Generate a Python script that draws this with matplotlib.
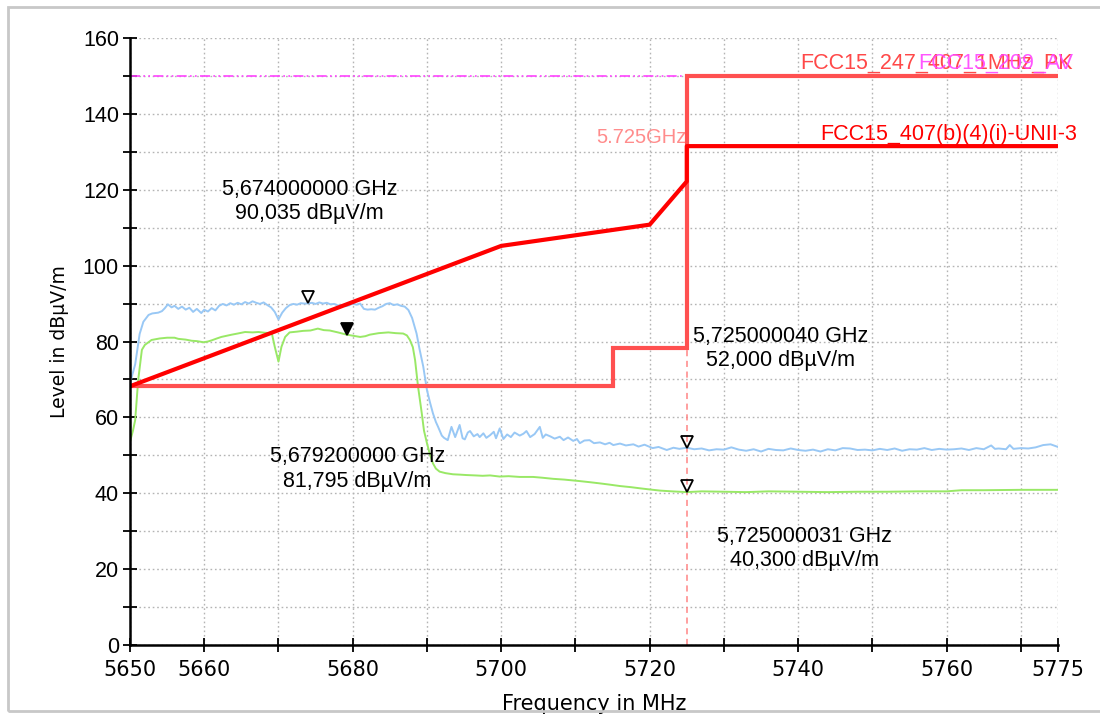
import matplotlib
matplotlib.use("Agg")
import matplotlib.pyplot as plt
from matplotlib.transforms import offset_copy
from matplotlib.patches import Rectangle

# ---------------- data ----------------
blue_f = [5650.0, 5650.7, 5651.3, 5651.8, 5652.5, 5653.0, 5653.8, 5654.3, 5654.7, 5655.1,
          5655.6, 5656.0, 5656.5, 5657.0, 5657.5, 5658.0, 5658.5, 5659.0, 5659.6, 5660.0,
          5660.5, 5661.0, 5661.5, 5662.0, 5662.5, 5663.0, 5663.5, 5664.0, 5664.5, 5665.0,
          5665.5, 5666.0, 5666.5, 5667.0, 5667.5, 5668.0, 5668.5, 5669.0, 5669.5, 5670.0,
          5670.5, 5671.0, 5671.5, 5672.0, 5672.5, 5673.0, 5673.5, 5674.0, 5674.5, 5675.0,
          5675.5, 5676.0, 5676.5, 5677.0, 5677.5, 5678.0, 5678.5, 5679.0, 5679.5, 5680.0,
          5680.5, 5681.0, 5681.5, 5682.0, 5682.5, 5683.0, 5683.5, 5684.0, 5684.5, 5685.0,
          5685.5, 5686.0, 5686.5, 5687.0, 5687.5, 5688.0, 5688.6, 5689.0, 5689.5, 5690.0,
          5690.4, 5690.8, 5691.2, 5691.5, 5692.0, 5692.3, 5692.8, 5693.3, 5693.8, 5694.4,
          5694.8, 5695.1, 5695.5, 5695.8, 5696.3, 5696.8, 5697.1, 5697.6, 5698.0, 5698.5,
          5699.0, 5699.3, 5699.8, 5700.3, 5700.8, 5701.3, 5701.8, 5702.5, 5703.0, 5703.4,
          5703.9, 5704.5, 5705.2, 5705.6, 5706.0, 5706.6, 5707.2, 5707.9, 5708.4, 5709.0,
          5709.7, 5710.2, 5710.6, 5711.2, 5711.9, 5712.5, 5713.3, 5714.0, 5714.6, 5715.1,
          5716.0, 5716.8, 5717.8, 5718.5, 5719.3, 5720.4, 5721.2, 5722.3, 5723.2, 5724.0,
          5725.0, 5726.0, 5727.0, 5728.0, 5729.0, 5730.0, 5731.0, 5732.0, 5733.0, 5734.0,
          5735.0, 5736.0, 5737.0, 5738.0, 5739.0, 5740.0, 5741.0, 5742.0, 5743.0, 5744.0,
          5745.0, 5746.0, 5747.0, 5748.0, 5749.0, 5750.0, 5751.0, 5752.0, 5753.0, 5754.0,
          5755.0, 5756.0, 5757.0, 5758.0, 5759.0, 5760.0, 5761.0, 5762.0, 5763.0, 5764.0,
          5765.0, 5766.0, 5766.5, 5767.0, 5768.0, 5768.5, 5769.0, 5770.0, 5771.0, 5772.0,
          5773.0, 5774.0, 5775.0]
blue_v = [69.0, 74.0, 82.0, 85.2, 87.0, 87.4, 87.6, 88.0, 88.8, 89.8,
          89.0, 89.4, 88.6, 89.2, 88.4, 88.9, 87.8, 88.6, 87.5, 88.4,
          87.9, 88.8, 88.2, 89.4, 89.9, 89.5, 90.1, 89.7, 90.2, 89.8,
          90.4, 90.0, 90.6, 90.2, 89.9, 90.3, 89.6, 89.0, 87.8, 85.8,
          87.6, 88.8, 89.6, 89.9, 89.7, 90.1, 90.0, 90.035, 90.2, 89.9,
          90.3, 90.0, 90.2, 89.8, 89.9, 89.5, 89.6, 89.3, 89.5, 90.0,
          89.7, 90.0, 88.6, 88.4, 88.5, 88.4, 88.9, 89.3, 89.9, 90.1,
          89.6, 89.8, 89.4, 89.2, 88.3, 86.2, 82.1, 78.0, 73.4, 67.2,
          64.0, 61.1, 58.8, 57.5, 55.2, 54.6, 54.0, 57.5, 54.8, 58.0,
          54.5, 54.2, 56.0, 56.4, 55.0, 55.6, 54.8, 55.8, 54.6, 55.3,
          56.2, 54.5, 57.1, 54.3, 55.5, 54.8, 56.0, 55.2, 55.7, 56.4,
          54.8, 55.6, 57.5, 54.6, 55.5, 55.0, 54.4, 54.9, 54.0, 54.7,
          53.8, 54.3, 53.2, 53.9, 54.0, 53.2, 53.4, 52.9, 53.3, 52.7,
          53.1, 52.6, 52.9, 52.3, 52.8, 51.9, 52.2, 51.4, 52.0, 51.7,
          52.0, 51.6, 51.8, 51.3, 51.6, 51.5, 52.1, 51.5, 51.2, 51.6,
          51.0, 51.7, 51.4, 51.3, 51.8, 51.4, 51.2, 51.5, 51.0, 51.6,
          51.3, 51.9, 51.8, 51.4, 51.5, 51.3, 51.7, 51.4, 51.8, 51.2,
          51.6, 51.5, 51.9, 51.4, 51.7, 51.5, 51.6, 51.8, 51.4, 51.9,
          51.6, 52.6, 51.7, 51.8, 51.6, 52.7, 51.7, 51.9, 51.8, 52.1,
          52.7, 52.9, 52.2]

green_f = [5650.0, 5650.4, 5650.7, 5651.1, 5651.6, 5652.0, 5652.9, 5654.0, 5655.0, 5656.0,
           5656.5, 5657.5, 5658.3, 5659.0, 5659.9, 5660.5, 5661.0, 5661.7, 5662.3, 5663.0,
           5663.7, 5664.5, 5665.5, 5666.5, 5667.3, 5668.2, 5669.1, 5669.5, 5670.0, 5670.4,
           5670.9, 5671.5, 5672.5, 5673.3, 5674.3, 5675.3, 5676.1, 5676.9, 5678.0, 5679.2,
           5680.1, 5681.0, 5681.7, 5682.3, 5683.5, 5684.8, 5685.8, 5686.8, 5687.3, 5687.7,
           5688.1, 5688.4, 5688.8, 5689.3, 5689.6, 5690.0, 5690.4, 5690.8, 5691.2, 5691.7,
           5692.5, 5693.5, 5694.5, 5695.3, 5696.5, 5697.5, 5698.5, 5699.8, 5701.0, 5702.5,
           5704.3, 5705.5, 5707.0, 5708.5, 5710.6, 5712.0, 5713.3, 5714.5, 5716.0, 5717.5,
           5718.7, 5720.0, 5721.4, 5723.0, 5725.0, 5727.0, 5730.0, 5733.0, 5736.0, 5740.0,
           5744.0, 5748.0, 5752.0, 5756.0, 5760.0, 5762.0, 5765.0, 5770.0, 5775.0]
green_v = [53.6, 56.5, 59.3, 69.8, 77.8, 79.1, 80.4, 80.8, 81.0, 81.0,
           80.7, 80.5, 80.2, 80.1, 79.8, 80.0, 80.3, 80.8, 81.2, 81.5,
           81.8, 82.1, 82.5, 82.4, 82.5, 82.3, 82.2, 78.6, 74.7, 78.6,
           81.2, 82.4, 82.6, 82.8, 82.9, 83.4, 83.0, 82.9, 82.4, 81.8,
           81.5, 81.2, 81.4, 81.8, 82.2, 82.4, 82.2, 82.1, 81.6, 80.4,
           78.5, 75.1, 68.1, 61.1, 56.5, 53.2, 50.2, 47.9, 46.5, 45.7,
           45.3, 45.0, 44.9, 44.8, 44.7, 44.6, 44.7, 44.4, 44.5, 44.3,
           44.3, 44.1, 43.8, 43.6, 43.2, 42.9, 42.6, 42.3, 41.9, 41.6,
           41.3, 41.0, 40.7, 40.5, 40.3, 40.5, 40.4, 40.3, 40.5, 40.4,
           40.3, 40.4, 40.4, 40.5, 40.5, 40.8, 40.8, 40.9, 40.9]

# limit lines
lim247_f = [5650, 5715, 5715, 5725, 5725, 5775]
lim247_v = [68.2, 68.2, 78.2, 78.2, 150.0, 150.0]
lim209_f = [5650, 5775]
lim209_v = [150.0, 150.0]
lim407_f = [5650, 5700, 5720, 5725, 5725, 5775]
lim407_v = [68.2, 105.2, 110.8, 122.2, 131.5, 131.5]

# markers: (freq MHz, level, filled, label)
markers = [
    (5674.0, 90.035, False, "5,674000000 GHz\n90,035 dBµV/m"),
    (5679.2, 81.795, True, "5,679200000 GHz\n81,795 dBµV/m"),
    (5725.0, 52.0, False, "5,725000040 GHz\n52,000 dBµV/m"),
    (5725.0, 40.3, False, "5,725000031 GHz\n40,300 dBµV/m"),
]
marker_text_pos = [(5674.2, 117.0), (5680.6, 46.4), (5737.6, 78.2), (5740.9, 25.4)]

x_ticks = [5650, 5660, 5670, 5680, 5690, 5700, 5710, 5720, 5730, 5740, 5750, 5760, 5770, 5775]
x_labels = ["5650", "5660", "", "5680", "", "5700", "", "5720", "", "5740", "", "5760", "", "5775"]
y_ticks = list(range(0, 161, 10))
y_labels = [str(v) if v % 20 == 0 else "" for v in y_ticks]

# ---------------- figure ----------------
fig = plt.figure(figsize=(11, 7.15), dpi=100)
ax = fig.add_axes([130 / 1100, 1 - 645 / 715, (1058 - 130) / 1100, (645 - 38) / 715])

fig.patches.append(Rectangle((8 / 1100, 4 / 715), 1.0, 704 / 715, transform=fig.transFigure,
                             fill=False, edgecolor="#c8c8c8", linewidth=2))

ax.set_xlim(5650, 5775)
ax.set_ylim(0, 160)
ax.set_xticks(x_ticks)
ax.set_xticklabels(x_labels, family=["Liberation Sans Narrow", "DejaVu Sans"], fontsize=15)
ax.set_yticks(y_ticks)
ax.set_yticklabels(y_labels, family=["Liberation Sans", "DejaVu Sans"], fontsize=15.5)
ax.tick_params(direction="inout", length=10, width=1.3, color="black", pad=3)
ax.tick_params(axis="x", pad=6)
ax.grid(True, color="#b4b4b4", linestyle=(0, (1.2, 2.0)), linewidth=1.0)
ax.set_axisbelow(True)
for s in ["top", "right"]:
    ax.spines[s].set_visible(False)
for s in ["left", "bottom"]:
    ax.spines[s].set_linewidth(1.8)
    ax.spines[s].set_zorder(6)

ax.set_xlabel("Frequency in MHz", family=["Liberation Sans Narrow", "DejaVu Sans"], fontsize=15, labelpad=10)
ax.set_ylabel("Level in dBµV/m", family=["Liberation Sans Narrow", "DejaVu Sans"], fontsize=13.5, labelpad=10)

# traces
ax.plot(blue_f, blue_v, color="#99c8f5", lw=1.4, zorder=3)
ax.plot(green_f, green_v, color="#99e866", lw=1.4, zorder=3)

# 5.725 GHz marker line
ax.plot([5725, 5725], [0, 150], color="#ff8585", lw=1.1, linestyle=(0, (4, 3)), zorder=2)
ax.text(5725, 131.3, "5.725GHz", color="#ff8c8c", fontsize=14.5, ha="right", va="bottom",
        family=["Liberation Sans", "DejaVu Sans"])

# limits
ax.plot(lim209_f, lim209_v, color="#ff44ff", lw=1.2, linestyle=(0, (6, 2, 1, 2, 1, 2)), zorder=4)
ax.plot(lim247_f, lim247_v, color="#ff5050", lw=3.0, zorder=4, solid_joinstyle="miter")
ax.plot(lim407_f, lim407_v, color="#ff0000", lw=3.0, zorder=5)

lab_kw = dict(fontsize=15.5, ha="right", va="bottom", clip_on=False,
              family=["Liberation Sans", "DejaVu Sans"])
ax.text(5777.0, 150.5, "FCC15_247_407_1MHz_PK", color="#ff4848", **lab_kw)
ax.text(5777.0, 150.5, "FCC15_209_AV", color="#ff44ff", alpha=0.9, **lab_kw)
ax.text(5777.6, 131.9, "FCC15_407(b)(4)(i)-UNII-3", color="#ff0000", **lab_kw)

# markers
tr = offset_copy(ax.transData, fig=fig, x=0, y=6, units="dots")
for (f, v, filled, lab), (tx, ty) in zip(markers, marker_text_pos):
    ax.plot([f], [v], marker="v", markersize=9, markeredgewidth=1.3,
            markeredgecolor="black", markerfacecolor="black" if filled else "none",
            transform=tr, zorder=7, clip_on=False)
    ax.text(tx, ty, lab, ha="center", va="center", multialignment="center",
            fontsize=15.5, linespacing=1.2, color="black",
            family=["Liberation Sans", "DejaVu Sans"], zorder=8)

fig.savefig("out.png", dpi=100)
